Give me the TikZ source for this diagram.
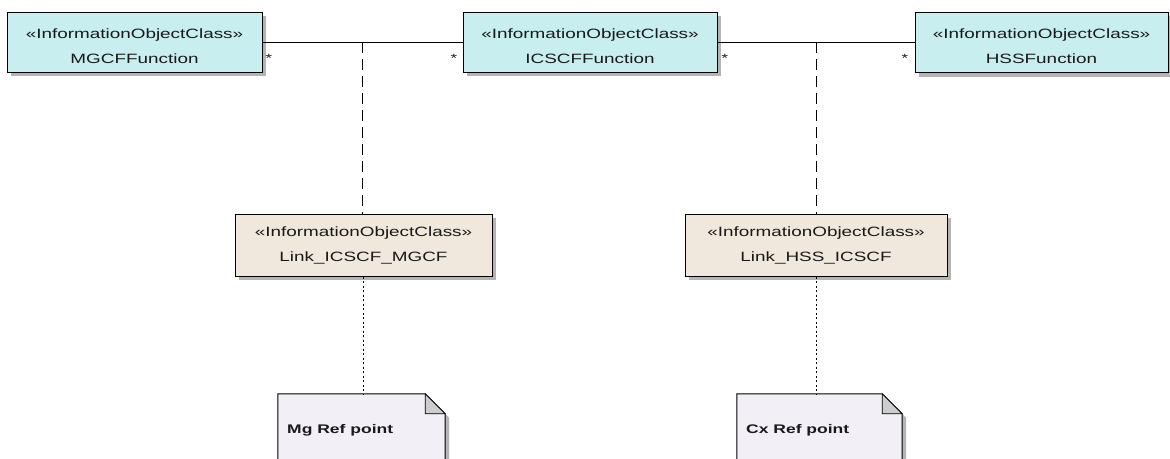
\documentclass[tikz,border=0pt]{standalone}
\usepackage{fontspec}
\newfontfamily\umlfont[FakeStretch=1.4]{Liberation Sans}
\definecolor{classfill}{RGB}{200,238,240}
\definecolor{linkfill}{RGB}{240,232,220}
\definecolor{notefill}{RGB}{242,240,246}
\definecolor{foldfill}{RGB}{205,205,208}
\definecolor{shadowc}{RGB}{180,180,180}
\definecolor{textc}{RGB}{25,25,25}
\newcommand{\topgap}{\rule{0pt}{18pt}}
\begin{document}
\begin{tikzpicture}[x=1pt,y=-1pt,
  umlbox/.style={draw=black, line width=1pt, rectangle, align=center, inner sep=0pt,
    text=textc, font=\umlfont\fontsize{13.5}{25}\selectfont},
  classbox/.style={umlbox, fill=classfill, minimum height=60pt},
  linkbox/.style={umlbox, fill=linkfill, minimum height=62pt},
  notebox/.style={rectangle, inner sep=0pt, minimum height=86pt},
  notetext/.style={anchor=west, inner sep=0pt, text=textc, font=\umlfont\bfseries\fontsize{12.5}{15}\selectfont},
  mult/.style={inner sep=0pt, text=textc, font=\umlfont\fontsize{12}{12}\selectfont},
  assoc/.style={draw=black, line width=1pt},
  dashline/.style={draw=black, line width=1pt, dash pattern=on 11pt off 6pt},
  dotline/.style={draw=black, line width=1pt, dash pattern=on 2pt off 2.5pt}
]
\useasboundingbox (0,0) rectangle (1170,458);
\clip (0,0) rectangle (1170,458);
\fill[white] (0,0) rectangle (1170,458);

% shadows
\fill[shadowc] (11,16) rectangle (266,76);
\fill[shadowc] (467,16) rectangle (721,76);
\fill[shadowc] (919,16) rectangle (1172,77);
\fill[shadowc] (239,218) rectangle (496,280);
\fill[shadowc] (689,218) rectangle (951,280);

% top classes
\node[classbox, minimum width=255pt] (mgcf) at (134.5,42) {\topgap«InformationObjectClass»\\MGCFFunction};
\node[classbox, minimum width=254pt] (icscf) at (590,42) {\topgap«InformationObjectClass»\\ICSCFFunction};
\node[classbox, minimum width=253pt] (hss) at (1041.5,42) {\topgap«InformationObjectClass»\\HSSFunction};

% link classes
\node[linkbox, minimum width=257pt] (linkm) at (363.5,245) {«InformationObjectClass»\\Link\_ICSCF\_MGCF};
\node[linkbox, minimum width=262pt] (linkh) at (816,245) {«InformationObjectClass»\\Link\_HSS\_ICSCF};

% associations
\draw[assoc] (mgcf.east) -- coordinate[pos=0.5] (am) (icscf.west);
\draw[assoc] (icscf.east) -- coordinate[pos=0.5] (ah) (hss.west);

% multiplicities
\node[mult] (m1) at (269,58) {*};
\node[mult] (m2) at (454,58) {*};
\node[mult] (m3) at (725,58) {*};
\node[mult] (m4) at (905,58) {*};

% association class dashed lines
\draw[dashline] (am) -- (am |- linkm.north);
\draw[dashline] (ah) -- (ah |- linkh.north);

% notes
\node[notebox, minimum width=167pt] (notem) at (361.5,437) {};
\node[notebox, minimum width=165pt] (noteh) at (819.5,437) {};
\foreach \n in {notem,noteh}{
  \fill[shadowc] ([xshift=4pt,yshift=-4pt]\n.south west) -- ([xshift=4pt,yshift=-4pt]\n.north west)
     -- ([xshift=-16pt,yshift=-4pt]\n.north east) -- ([xshift=4pt,yshift=-24pt]\n.north east)
     -- ([xshift=4pt,yshift=-4pt]\n.south east) -- cycle;
  \filldraw[fill=notefill, draw=black, line width=1pt]
     (\n.south west) -- (\n.north west) -- ([xshift=-20pt]\n.north east)
     -- ([yshift=-20pt]\n.north east) -- (\n.south east) -- cycle;
  \filldraw[fill=foldfill, draw=black, line width=0.7pt]
     ([xshift=-20pt]\n.north east) -- ([xshift=-20pt,yshift=-20pt]\n.north east)
     -- ([yshift=-20pt]\n.north east) -- cycle;
}
\node[notetext] (notemt) at (287,430) {Mg Ref point};
\node[notetext] (notehtt) at (746,430) {Cx Ref point};

% dotted lines to notes
\draw[dotline] (linkm.south) -- (linkm.south |- notem.north);
\draw[dotline] (linkh.south) -- (linkh.south |- noteh.north);
\end{tikzpicture}
\end{document}
